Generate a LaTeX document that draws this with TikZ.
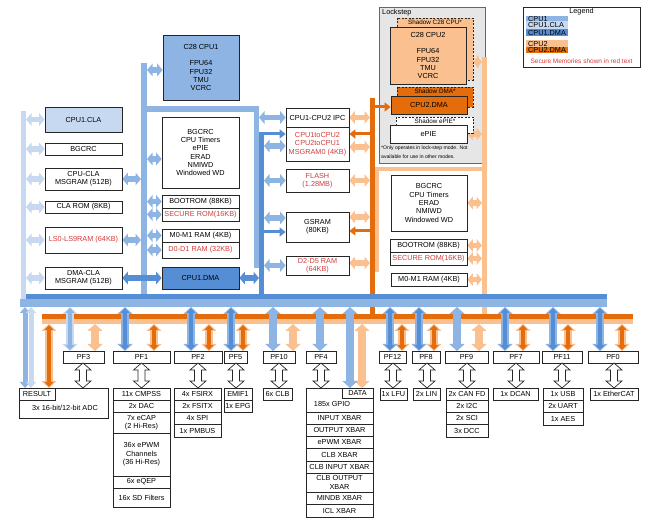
\documentclass[tikz,border=0pt]{standalone}
\usepackage{fontspec}
\setmainfont{Liberation Sans}
\usetikzlibrary{arrows.meta}
\pgfdeclarelayer{back}
\pgfdeclarelayer{mid}
\pgfsetlayers{back,mid,main}
\definecolor{cpuA}{HTML}{8EB4E3}
\definecolor{claC}{HTML}{C6D9F1}
\definecolor{dmaC}{HTML}{558ED5}
\definecolor{cpuB}{HTML}{FAC090}
\definecolor{dmaB}{HTML}{E46C0A}
\definecolor{redT}{HTML}{D23C3C}
\definecolor{lockG}{HTML}{E6E6E6}
\newcommand{\bx}[7][]{%
  \pgfmathsetmacro\bw{#5-#3}\pgfmathsetmacro\bh{#6-#4}%
  \pgfmathsetmacro\cx{(#3+#5)/2}\pgfmathsetmacro\cy{(#4+#6)/2}%
  \node[box,minimum width=\bw pt,minimum height=\bh pt,#1] (#2) at (\cx,\cy) {#7};}
\newcommand{\hol}[3]{%
  \pgfmathsetmacro\hL{#3-#2-14}%
  \draw[line width=0.7pt,draw=black!85,fill=white] (#1,#2) -- ++(8,7) -- ++(-4.5,0) -- ++(0,\hL) -- ++(4.5,0) -- ++(-8,7) -- ++(-8,-7) -- ++(4.5,0) -- ++(0,-\hL) -- ++(-4.5,0) -- cycle;}
% wide arrow with a narrower one of another colour on top
\newcommand{\vtwo}[5]{%
  \draw[vbig,#4] (#1,#2) -- (#1,#3);
  \draw[vthin,#5] (#1,#2) -- (#1,#3);}
% two arrows side by side
\newcommand{\vpair}[5]{%
  \draw[varr,#4] ([xshift=-3pt]#1,#2) -- ([xshift=-3pt]#1,#3);
  \draw[varr,#5] ([xshift=3pt]#1,#2) -- ([xshift=3pt]#1,#3);}
\newcommand{\vone}[4]{\draw[vbig,#4] (#1,#2) -- (#1,#3);}
\begin{document}
\begin{tikzpicture}[x=1pt,y=-1pt,
  box/.style={draw=black!85,line width=0.7pt,fill=white,inner sep=0pt,align=center,font=\fontsize{7.3}{8.3}\selectfont},
  harr/.style={line width=5.5pt,{Triangle[width=12.5pt,length=5.5pt]}-{Triangle[width=12.5pt,length=5.5pt]}},
  sarr/.style={line width=3pt,-{Triangle[width=9pt,length=6pt]}},
  varr/.style={line width=5pt,{Triangle[width=10pt,length=6pt]}-{Triangle[width=10pt,length=6pt]}},
  vbig/.style={line width=8pt,{Triangle[width=15pt,length=7pt]}-{Triangle[width=15pt,length=7pt]}},
  vthin/.style={line width=4pt,{Triangle[width=9pt,length=5pt]}-{Triangle[width=9pt,length=5pt]},shorten <=1pt,shorten >=1pt},
  lbl/.style={inner sep=0pt,font=\fontsize{7.3}{8.3}\selectfont},
  shadow/.style={draw=black!85,line width=0.7pt,dash pattern=on 2pt off 1.5pt}]
\useasboundingbox (0,0) rectangle (662,526);
\coordinate (claX) at (26,0);
\coordinate (cpuL) at (141,0);
\coordinate (cpuLr) at (147,0);
\coordinate (cpuR) at (259,0);
\coordinate (dmaR) at (264,0);
\coordinate (orL) at (370,0);
\coordinate (orLr) at (375,0);
\coordinate (orR) at (482,0);

% ---------- background and Lockstep region ----------
\begin{pgfonlayer}{back}
\fill[white] (0,0) rectangle (662,526);
\draw[fill=lockG,draw=black!60,line width=0.8pt] (379,7) rectangle (485,163);
\end{pgfonlayer}
\node[lbl,anchor=west] (lock) at (382,13) {Lockstep};
\draw[shadow,fill=cpuB] (397,18) rectangle (473,80);
\node[lbl,font=\fontsize{6.3}{7}\selectfont] (shc) at (435,22.5) {Shadow C28 CPU*};
\draw[shadow,fill=dmaB] (397,87) rectangle (473,107);
\node[lbl,font=\fontsize{6.3}{7}\selectfont] (shd) at (435,91) {Shadow DMA*};
\draw[shadow,fill=white] (396,117) rectangle (473,133);
\node[lbl,font=\fontsize{6.3}{7}\selectfont] (she) at (435,121.5) {Shadow ePIE*};
\bx[fill=cpuB]{cpu2}{390}{27}{466}{84}{C28 CPU2\\[8.3pt]FPU64\\FPU32\\TMU\\VCRC}
\bx[fill=dmaB]{dma2}{391}{96}{467}{114}{CPU2.DMA}
\bx{epie}{390}{125}{467}{143}{ePIE}
\node[inner sep=0pt,anchor=north west,align=left,font=\fontsize{5.1}{9}\selectfont] (fn) at (381,145.5) {*Only operates in lock-step mode. Not\\available for use in other modes.};

% ---------- left (CLA) column ----------
\bx[fill=claC]{cla}{45}{107}{122}{132}{CPU1.CLA}
\bx{bgcrcL}{45}{143}{122}{155}{BGCRC}
\bx{cpucla}{45}{168}{122}{190}{CPU-CLA\\MSGRAM (512B)}
\bx{clarom}{45}{201}{122}{213}{CLA ROM (8KB)}
\bx[text=redT]{ls}{45}{227}{122}{253}{LS0-LS9RAM (64KB)}
\bx{dmacla}{45}{267}{122}{289}{DMA-CLA\\MSGRAM (512B)}

% ---------- CPU1 column ----------
\bx[fill=cpuA]{cpu1}{163}{35}{239}{100}{C28 CPU1\\[8.3pt]FPU64\\FPU32\\TMU\\VCRC}
\bx{per1}{162}{117}{239}{188}{BGCRC\\CPU Timers\\ePIE\\ERAD\\NMIWD\\Windowed WD}
\bx{boot1}{162}{195}{239}{208}{BOOTROM (88KB)}
\bx[text=redT]{sec1}{162}{208}{239}{221}{SECURE ROM(16KB)}
\bx{m01}{162}{229}{239}{242}{M0-M1 RAM (4KB)}
\bx[text=redT]{d01}{162}{242}{239}{258}{D0-D1 RAM (32KB)}
\bx[fill=dmaC]{dma1}{162}{267}{239}{289}{CPU1.DMA}

% ---------- shared memories ----------
\bx{ipc}{286}{108}{349}{127}{CPU1-CPU2 IPC}
\bx[text=redT]{msg0}{286}{127}{349}{161}{CPU1toCPU2\\CPU2toCPU1\\MSGRAM0 (4KB)}
\bx[text=redT]{flash}{286}{169}{349}{192}{FLASH\\(1.28MB)}
\bx{gsram}{286}{212}{349}{242}{GSRAM\\(80KB)}
\bx[text=redT]{d25}{286}{256}{349}{275}{D2-D5 RAM\\(64KB)}

% ---------- CPU2 column ----------
\bx{per2}{391}{175}{467}{231}{BGCRC\\CPU Timers\\ERAD\\NMIWD\\Windowed WD}
\bx{boot2}{390}{239}{467}{252}{BOOTROM (88KB)}
\bx[text=redT]{sec2}{390}{252}{467}{265}{SECURE ROM(16KB)}
\bx{m02}{391}{273}{467}{286}{M0-M1 RAM (4KB)}

% ---------- legend ----------
\draw[draw=black!85,line width=0.7pt,fill=white] (523,7) rectangle (640,67);
\node[lbl] (leg) at (581.5,12) {Legend};
\fill[cpuA] (526,16) rectangle (568,21);
\fill[claC] (526,21) rectangle (568,29);
\fill[dmaC] (526,29) rectangle (568,36);
\fill[cpuB] (526,40) rectangle (568,47);
\fill[dmaB] (526,47) rectangle (568,53);
\node[lbl,anchor=west] (l1) at (528,18.5) {CPU1};
\node[lbl,anchor=west] (l2) at (528,25) {CPU1.CLA};
\node[lbl,anchor=west] (l3) at (528,32.5) {CPU1.DMA};
\node[lbl,anchor=west] (l4) at (528,43.5) {CPU2};
\node[lbl,anchor=west] (l5) at (528,50) {CPU2.DMA};
\node[lbl,text=redT,font=\fontsize{6.5}{7}\selectfont] (l6) at (581.5,61) {Secure Memories shown in red text};

% ---------- peripheral frames ----------
\bx{pf3}{63}{351}{104}{363}{PF3}
\bx{pf1}{113}{351}{170}{363}{PF1}
\bx{pf2}{174}{351}{222}{363}{PF2}
\bx{pf5}{224}{351}{247}{363}{PF5}
\bx{pf10}{263}{351}{295}{363}{PF10}
\bx{pf4}{306}{351}{336}{363}{PF4}
\bx{pf12}{379}{351}{406}{363}{PF12}
\bx{pf8}{412}{351}{440}{363}{PF8}
\bx{pf9}{445}{351}{488}{363}{PF9}
\bx{pf7}{493}{351}{539}{363}{PF7}
\bx{pf11}{542}{351}{582}{363}{PF11}
\bx{pf0}{588}{351}{638}{363}{PF0}

% ---------- peripherals ----------
\bx{adc}{19}{388}{108}{418}{}
\node[lbl] (adct) at (65,407.5) {3x 16-bit/12-bit ADC};
\bx{res}{19}{388}{55}{400}{RESULT}
\bx{cmpss}{113}{388}{170}{400}{11x CMPSS}
\bx{dac}{113}{400}{170}{412}{2x DAC}
\bx{ecap}{113}{412}{170}{433}{7x eCAP\\(2 Hi-Res)}
\bx{epwm}{113}{433}{170}{476}{36x ePWM\\Channels\\(36 Hi-Res)}
\bx{eqep}{113}{476}{170}{488}{6x eQEP}
\bx{sdf}{113}{488}{170}{507}{16x SD Filters}
\bx{fsirx}{174}{388}{221}{400}{4x FSIRX}
\bx{fsitx}{174}{400}{221}{412}{2x FSITX}
\bx{spi}{174}{412}{221}{424}{4x SPI}
\bx{pmbus}{174}{424}{221}{437}{1x PMBUS}
\bx{emif}{224}{388}{252}{400}{EMIF1}
\bx{epg}{224}{400}{252}{412}{1x EPG}
\bx{clb}{263}{388}{292}{400}{6x CLB}
\bx{gpio}{306}{388}{373}{412}{}
\node[lbl] (gpiot) at (332,404) {185x GPIO};
\bx{data}{342}{388}{373}{398}{DATA}
\bx{ixb}{306}{412}{373}{424}{INPUT XBAR}
\bx{oxb}{306}{424}{373}{436}{OUTPUT XBAR}
\bx{pxb}{306}{436}{373}{448}{ePWM XBAR}
\bx{cxb}{306}{448}{373}{461}{CLB XBAR}
\bx{cixb}{306}{461}{373}{473}{CLB INPUT XBAR}
\bx{coxb}{306}{473}{373}{492}{CLB OUTPUT\\XBAR}
\bx{mxb}{306}{492}{373}{504}{MINDB XBAR}
\bx{icl}{306}{504}{373}{517}{ICL XBAR}
\bx{lfu}{380}{388}{407}{400}{1x LFU}
\bx{lin}{413}{388}{440}{400}{2x LIN}
\bx{can}{446}{388}{488}{400}{2x CAN FD}
\bx{i2c}{446}{400}{488}{412}{2x I2C}
\bx{sci}{446}{412}{488}{424}{2x SCI}
\bx{dcc}{446}{424}{488}{437}{3x DCC}
\bx{dcan}{493}{388}{538}{400}{1x DCAN}
\bx{usb}{543}{388}{583}{400}{1x USB}
\bx{uart}{543}{400}{583}{412}{2x UART}
\bx{aes}{543}{412}{583}{425}{1x AES}
\bx{ecat}{590}{388}{638}{400}{1x EtherCAT}

% hollow arrows PF -> peripherals
\hol{83}{363}{388}
\hol{141.5}{363}{388}
\hol{198}{363}{388}
\hol{236}{363}{388}
\hol{279}{363}{388}
\hol{321}{363}{388}
\hol{393}{363}{388}
\hol{427}{363}{388}
\hol{467}{363}{388}
\hol{516}{363}{388}
\hol{562}{363}{388}
\hol{614}{363}{388}

% ---------- buses and arrows ----------
\begin{pgfonlayer}{mid}
% orange buses
\fill[dmaB] (370,98) rectangle (375,319);
\fill[cpuB] (375,167) rectangle (487,171);
\fill[cpuB] (375,167) rectangle (379,272);
\fill[cpuB] (482,57) rectangle (487,324);
\fill[dmaB] (42,314) rectangle (633,319);
\fill[cpuB] (42,319) rectangle (633,324);
% blue buses
\fill[claC] (21,111) rectangle (26,302);
\fill[cpuA] (141,63) rectangle (147,300);
\fill[cpuA] (141,106) rectangle (259,112);
\fill[cpuA] (254,106) rectangle (259,268);
\fill[dmaC] (259,132) rectangle (264,299);
\fill[dmaC] (26,294) rectangle (607,299);
\fill[cpuA] (20,299) rectangle (607,307);

% CLA arrows
\foreach \n in {cla,bgcrcL,cpucla,clarom,ls,dmacla}
  \draw[harr,claC] (claX |- \n.west) -- (\n.west);
% CPU1 arrows
\draw[harr,cpuA] (cpucla.east) -- (cpuL |- cpucla.east);
\draw[harr,cpuA] (ls.east) -- (cpuL |- ls.east);
\draw[harr,cpuA] (cpuLr |- 0,70) -- (cpu1.west |- 0,70);
\draw[harr,cpuA] (cpuLr |- 0,159) -- (per1.west |- 0,159);
\foreach \n in {boot1,sec1,m01,d01}
  \draw[harr,cpuA] (cpuLr |- \n.west) -- (\n.west);
\draw[harr,dmaC] (dmacla.east) -- (dma1.west);
\draw[harr,dmaC] (dma1.east) -- (cpuR |- dma1.east);
\draw[harr,cpuA] (cpuR |- ipc.west) -- (ipc.west);
\draw[harr,cpuA] (dmaR |- 0,146) -- (msg0.west |- 0,146);
\draw[harr,cpuA] (dmaR |- flash.west) -- (flash.west);
\draw[harr,cpuA] (dmaR |- 0,218) -- (gsram.west |- 0,218);
\draw[harr,cpuA] (dmaR |- d25.west) -- (d25.west);
\draw[sarr,dmaC] (dmaR |- 0,134) -- (msg0.west |- 0,134);
\draw[sarr,dmaC] (dmaR |- 0,232) -- (gsram.west |- 0,232);
% CPU2 arrows
\draw[harr,cpuB] (ipc.east) -- (orL |- ipc.east);
\draw[harr,cpuB] (msg0.east |- 0,147) -- (orL |- 0,147);
\draw[harr,cpuB] (flash.east) -- (orL |- flash.east);
\draw[harr,cpuB] (gsram.east |- 0,217) -- (orL |- 0,217);
\draw[harr,cpuB] (d25.east |- 0,263) -- (orL |- 0,263);
\draw[sarr,dmaB] (orL |- 0,134) -- (msg0.east |- 0,134);
\draw[sarr,dmaB] (orL |- 0,231) -- (gsram.east |- 0,231);
\draw[sarr,dmaB] (orLr |- 0,107) -- (dma2.west |- 0,107);
\draw[harr,cpuB] (473,62) -- (orR |- 0,62);
\foreach \n in {epie,per2,boot2,sec2,m02}
  \draw[harr,cpuB] (\n.east) -- (orR |- \n.east);

% orange vertical arrows to peripheral frames
\vone{95}{324}{351}{cpuB}
\vtwo{154}{324}{351}{cpuB}{dmaB}
\vtwo{209}{324}{351}{cpuB}{dmaB}
\vtwo{243}{324}{351}{cpuB}{dmaB}
\vone{293}{324}{351}{cpuB}
\vtwo{402}{324}{351}{cpuB}{dmaB}
\vtwo{434}{324}{351}{cpuB}{dmaB}
\vone{479}{324}{351}{cpuB}
\vtwo{523}{324}{351}{cpuB}{dmaB}
\vtwo{568}{324}{351}{cpuB}{dmaB}
\vtwo{622}{324}{351}{cpuB}{dmaB}
\vtwo{49}{324}{388}{cpuB}{dmaB}
\vone{362}{324}{388}{cpuB}
% blue vertical arrows to peripheral frames
\vtwo{70}{307}{351}{claC}{cpuA}
\vtwo{125}{307}{351}{cpuA}{dmaC}
\vtwo{191}{307}{351}{cpuA}{dmaC}
\vtwo{231}{307}{351}{cpuA}{dmaC}
\vone{273}{307}{351}{cpuA}
\vone{320}{307}{351}{cpuA}
\vtwo{390}{307}{351}{cpuA}{dmaC}
\vtwo{419}{307}{351}{cpuA}{dmaC}
\vone{457}{307}{351}{cpuA}
\vtwo{505}{307}{351}{cpuA}{dmaC}
\vtwo{553}{307}{351}{cpuA}{dmaC}
\vtwo{600}{307}{351}{cpuA}{dmaC}
\vpair{28}{307}{388}{cpuA}{claC}
\vone{350}{307}{388}{cpuA}
\end{pgfonlayer}
\end{tikzpicture}
\end{document}
